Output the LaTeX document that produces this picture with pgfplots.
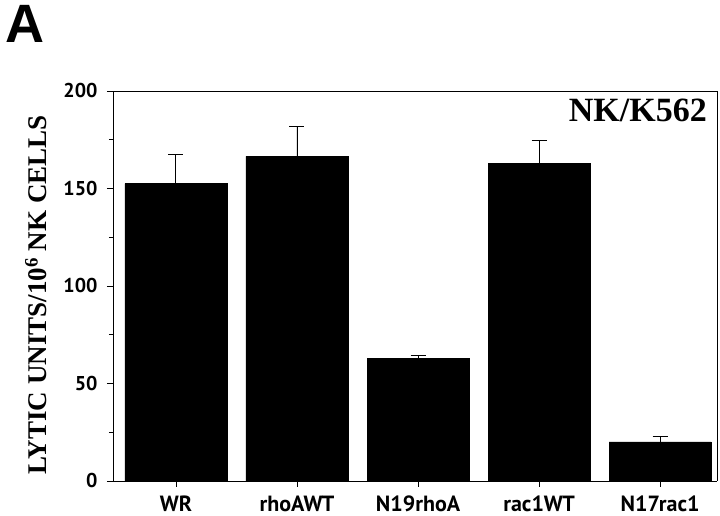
\documentclass[border=0pt]{standalone}
\usepackage{fontspec}
\setmainfont{Liberation Serif}
\newfontfamily\gill{PT Sans}
\newfontfamily\arial{Liberation Sans}
\usepackage{pgfplots}
\pgfplotsset{compat=1.18}

\begin{document}
\begin{tikzpicture}
\begin{axis}[
    at={(0,0)}, anchor=south west,
    scale only axis,
    width=604pt, height=390pt,
    ybar, bar width=102pt,
    ymin=0, ymax=200,
    xmin=-0.52, xmax=4.47,
    xtick={0,1,2,3,4},
    xticklabels={WR,rhoAWT,N19rhoA,rac1WT,N17rac1},
    ytick={0,50,100,150,200},
    minor ytick={25,75,125,175},
    axis x line*=bottom, axis y line*=left,
    axis line style={line width=0.8pt},
    x axis line style={-}, y axis line style={-},
    tick align=outside,
    major tick length=6pt, minor tick length=4pt,
    tick style={black, line width=0.8pt},
    /pgf/number format/assume math mode=true,
    yticklabel style={font=\gill\bfseries\fontsize{20}{20}\selectfont, xshift=-6pt},
    xticklabel style={font=\gill\bfseries\fontsize{22}{22}\selectfont, yshift=-5pt},
    ylabel={\textbf{LYTIC UNITS/10$^{\mathbf{6}}$ NK CELLS}},
    ylabel style={font=\fontsize{27}{27}\selectfont, at={(-77pt,186pt)}, anchor=center},
    clip=false,
]
\addplot[fill=black, draw=black,
    error bars/.cd, y dir=plus, y explicit,
    error bar style={line width=0.9pt, black},
    error mark options={rotate=90, mark size=7.5pt, line width=0.9pt, black}]
  coordinates {
    (0,152.5) +- (0,15)
    (1,166.5) +- (0,15.5)
    (2,63)  +- (0,1.5)
    (3,163) +- (0,11.5)
    (4,20)  +- (0,3)
  };
\draw[line width=0.8pt] (axis cs:-0.52,200) -- (axis cs:4.47,200) -- (axis cs:4.47,0);
\node[anchor=north east, font=\bfseries\fontsize{34}{34}\selectfont, inner sep=0pt]
  at ([xshift=-10pt,yshift=-8pt]axis cs:4.47,200) {NK/K562};
\end{axis}
\node[anchor=north west, inner sep=0pt, font=\arial\bfseries\fontsize{54}{54}\selectfont]
  at (-108pt,476pt) {A};
\path[use as bounding box] (-113pt,-35pt) rectangle (607pt,481pt);
\end{tikzpicture}
\end{document}
